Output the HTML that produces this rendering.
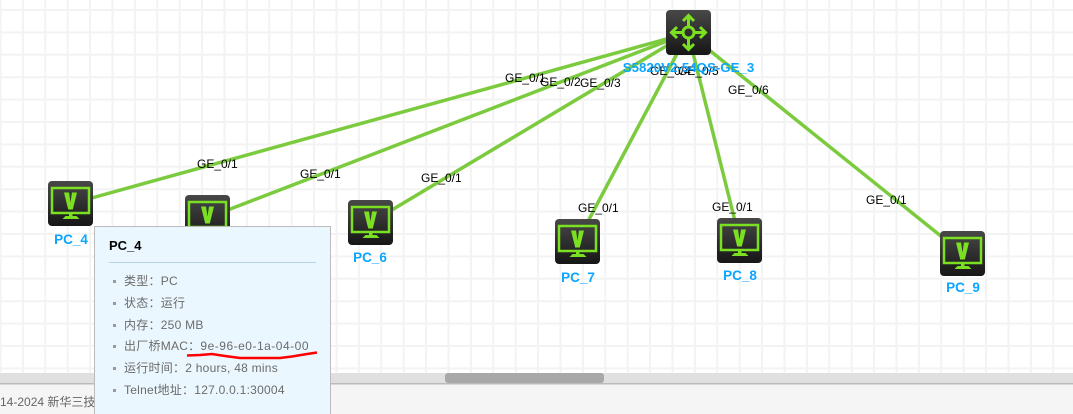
<!DOCTYPE html>
<html><head><meta charset="utf-8"><style>
html,body{margin:0;padding:0;background:#fff}
#w{position:relative;width:1073px;height:414px;overflow:hidden;background:#fff;font-family:"Liberation Sans","Noto Sans CJK SC",sans-serif}
svg{position:absolute;left:0;top:0}
#tip{position:absolute;left:94px;top:226px;width:237px;height:200px;background:#ebf7fe;border:1px solid #bbb;box-sizing:border-box}
#tip b{position:absolute;left:14px;top:11px;font-size:13px;line-height:16px;color:#000}
#tip hr{position:absolute;left:14px;top:35px;width:207px;margin:0;border:0;border-top:1px solid #b3d5e6}
#tip div{position:absolute;left:29px;font-size:12px;line-height:16px;color:#6b6b6b;white-space:nowrap;letter-spacing:.25px}
#tip i{position:absolute;left:18px;width:3px;height:3px;background:#999}
#foot{position:absolute;left:0;top:394px;font-size:12px;line-height:16px;color:#666;white-space:nowrap}
</style></head><body><div id="w">
<svg width="1073" height="414" viewBox="0 0 1073 414" font-family="Liberation Sans, Noto Sans CJK SC, sans-serif">
<defs>
<pattern id="g" x="-0.5" y="9" width="22.4" height="22.4" patternUnits="userSpaceOnUse">
<rect x="0" y="0" width="2" height="22.4" fill="#f3f3f3"/><rect x="0" y="0" width="22.4" height="2" fill="#f3f3f3"/>
</pattern>
<linearGradient id="b" x1="0" y1="0" x2="0" y2="1"><stop offset="0" stop-color="#484848"/><stop offset="1" stop-color="#161616"/></linearGradient>
<g id="pc"><rect width="45" height="45" rx="4" fill="url(#b)"/>
<rect x="4" y="7" width="37" height="25" fill="none" stroke="#7be021" stroke-width="2.500"/>
<path d="M16 11.500h5l1.500 10 1.500-10h5l-4.200 17h-4.600z" fill="#7be021"/>
<path d="M21 32h3.500v3h4l3 3h-17l3-3h3.500z" fill="#7be021"/></g>
</defs>
<rect width="1073" height="373" fill="url(#g)"/>
<g stroke="#7ccb3f" stroke-width="3.500" fill="none">
<line x1="688" y1="33" x2="70" y2="204"/>
<line x1="688" y1="33" x2="207" y2="218"/>
<line x1="688" y1="33" x2="370" y2="223"/>
<line x1="688" y1="33" x2="577" y2="242"/>
<line x1="688" y1="33" x2="740" y2="241"/>
<line x1="688" y1="33" x2="962" y2="253"/>
</g>
<g font-size="12" fill="#000">
<text x="505" y="82">GE_0/1</text><text x="540" y="86">GE_0/2</text><text x="580" y="87">GE_0/3</text>
<text x="650" y="75">GE_0/4</text><text x="678" y="75">GE_0/5</text><text x="728" y="94">GE_0/6</text>
<text x="197" y="168">GE_0/1</text><text x="300" y="178">GE_0/1</text><text x="421" y="182">GE_0/1</text>
<text x="578" y="212">GE_0/1</text><text x="712" y="211">GE_0/1</text><text x="866" y="204">GE_0/1</text>
</g>
<g transform="translate(666,10)"><rect width="45" height="45" rx="4" fill="url(#b)"/>
<g fill="none" stroke="#7be021" stroke-width="3"><circle cx="22.500" cy="22.500" r="5.500"/>
<path d="M22.500 6v11M22.500 28v11M6 22.500h11M28 22.500h11M17 11l5.500-5.500 5.500 5.500M17 34l5.500 5.500 5.500-5.500M11 17l-5.500 5.500 5.500 5.500M34 17l5.500 5.500-5.500 5.500"/></g></g>
<use href="#pc" x="48" y="181"/><use href="#pc" x="185" y="195"/><use href="#pc" x="348" y="200"/>
<use href="#pc" x="555" y="219"/><use href="#pc" x="717" y="218"/><use href="#pc" x="940" y="231"/>
<g font-size="13.500" font-weight="bold" fill="#0aa5ff" text-anchor="middle">
<text x="71" y="244">PC_4</text><text x="370" y="262">PC_6</text><text x="578" y="282">PC_7</text>
<text x="740" y="280">PC_8</text><text x="963" y="292">PC_9</text>
<text x="688.500" y="72" font-size="13.300">S5820V2-54QS-GE_3</text>
</g>
<rect y="373" width="1073" height="10" fill="#e0e0e0"/>
<rect y="383" width="1073" height="1.500" fill="#bbb"/>
<rect y="384.500" width="1073" height="29.500" fill="#f5f5f5"/>
<rect x="445" y="373" width="159" height="10" rx="3" fill="#a8a8a8"/>
</svg>
<div id="foot">14-2024 新华三技术有限公司</div>
<div id="tip"><b>PC_4</b><hr>
<i style="top:53px"></i><div style="top:46px">类型：PC</div>
<i style="top:75px"></i><div style="top:68px">状态：运行</div>
<i style="top:97px"></i><div style="top:90px">内存：250 MB</div>
<i style="top:118px"></i><div style="top:111px">出厂桥MAC：<span style="letter-spacing:.5px">9e-96-e0-1a-04-00</span></div>
<i style="top:140px"></i><div style="top:133px">运行时间：2 hours, 48 mins</div>
<i style="top:162px"></i><div style="top:155px">Telnet地址：127.0.0.1:30004</div>
</div>
<svg width="1073" height="414"><path d="M187 355.500l13-.500 12-1 13 2 15 2h40l12-1.500 12-2 13-2" fill="none" stroke="#f00" stroke-width="2.500"/></svg>
</div></body></html>
